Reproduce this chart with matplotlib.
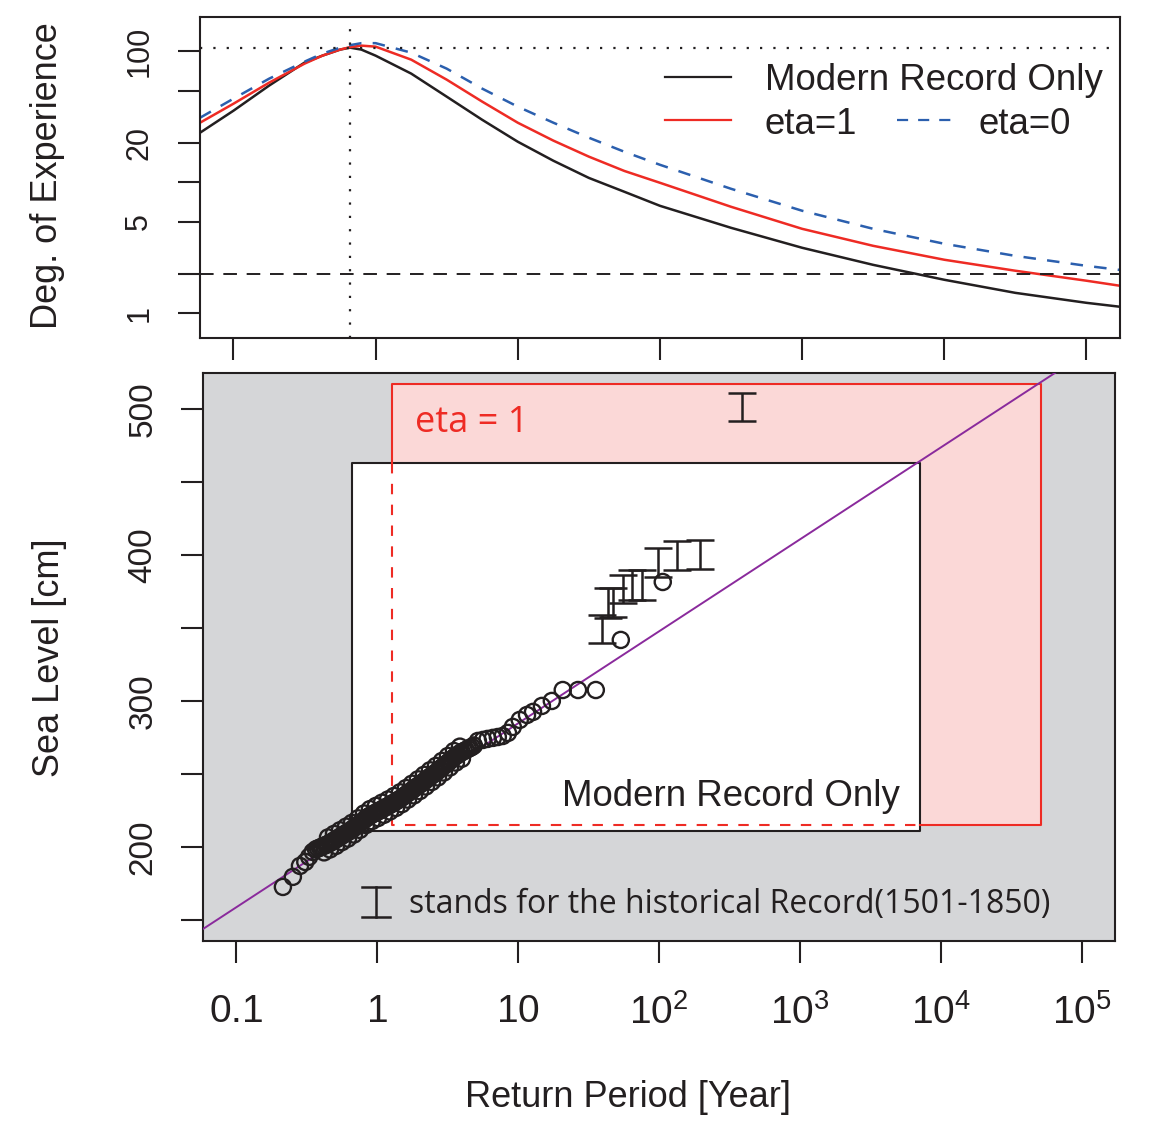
import matplotlib
matplotlib.use("Agg")
import matplotlib.pyplot as plt
from matplotlib.ticker import NullLocator

plt.rcParams['font.family'] = ['Liberation Sans', 'DejaVu Sans']
plt.rcParams['mathtext.fontset'] = 'custom'
plt.rcParams['mathtext.rm'] = 'Liberation Sans Narrow'

# ---- data -------------------------------------------------------------
# top panel: degree of experience vs return period
deg_T = [0.0582, 0.1, 0.178, 0.316, 0.422, 0.562, 0.661, 0.794, 1.0, 1.78, 3.16,
         5.62, 10, 17.8, 31.6, 56.2, 100, 316, 1000, 3160, 10000, 31600, 100000,
         172000]
deg_modern = [23.9, 35.2, 54.7, 82.0, 92.7, 103.1, 106.7, 103.1, 92.7, 67.6, 45.1,
              30.0, 20.4, 14.6, 10.8, 8.46, 6.61, 4.49, 3.16, 2.34, 1.80, 1.43,
              1.20, 1.12]
deg_eta1 = [28.5, 39.8, 57.6, 80.5, 92.7, 103.1, 107.7, 110.6, 108.6, 86.4, 60.8,
            41.3, 28.5, 20.8, 15.7, 12.2, 9.91, 6.50, 4.41, 3.27, 2.56, 2.11,
            1.77, 1.62]
deg_eta0 = [31.1, 43.5, 61.8, 83.4, 96.0, 106.7, 111.5, 115.5, 115.5, 97.7, 73.8,
            51.9, 37.8, 28.5, 21.9, 17.1, 13.6, 8.92, 6.06, 4.41, 3.39, 2.74,
            2.30, 2.14]
deg_peak = 106
deg_T_min = 0.665
deg_threshold = 2

# bottom panel: observed sea levels (modern record), main chain
obs_T = [0.215, 0.253, 0.284, 0.31, 0.33, 0.35,
         0.369, 0.381, 0.394, 0.407, 0.421, 0.435, 0.449, 0.464, 0.479, 0.495,
         0.512, 0.529, 0.546, 0.564, 0.583, 0.603, 0.622, 0.643, 0.664, 0.686,
         0.709, 0.733, 0.757, 0.782, 0.808, 0.835, 0.863, 0.891, 0.921, 0.951,
         0.983, 1.016, 1.049, 1.084, 1.120, 1.157, 1.196, 1.236, 1.277, 1.319,
         1.363, 1.408, 1.455, 1.503, 1.553, 1.605, 1.658, 1.713, 1.770, 1.829,
         1.889, 1.952, 2.017, 2.084, 2.153, 2.224, 2.298, 2.374, 2.453, 2.535,
         2.619, 2.706, 2.796, 2.889, 2.984, 3.083, 3.186, 3.291, 3.401, 3.514,
         3.630, 3.751, 3.875, 4.004, 4.137, 4.274, 4.416, 4.563, 4.714, 4.871,
         5.2, 5.65, 6.1, 6.65, 7.2, 7.8, 8.5, 9.2, 10.3, 11.6, 12.8, 14.8,
         17.4, 20.8, 26.7, 35.7, 53.7, 106.6]
obs_level = [172.6, 179.5, 187.0, 189.7, 193.2, 196.6,
             198.4, 199.0, 199.5, 200.2, 200.8, 201.4, 202.0, 202.8, 203.5, 204.4,
             205.2, 206.0, 206.9, 207.8, 208.6, 209.4, 210.2, 211.1, 212.0, 213.0,
             214.0, 215.1, 216.2, 217.3, 218.4, 219.5, 220.5, 221.4, 222.2, 222.9,
             223.6, 224.3, 225.0, 225.8, 226.5, 227.3, 228.0, 228.8, 229.6, 230.4,
             231.2, 232.0, 232.9, 233.8, 234.8, 235.8, 236.9, 237.8, 238.8, 239.8,
             240.9, 241.8, 242.8, 243.8, 244.9, 245.9, 247.0, 248.0, 249.0, 250.0,
             251.0, 252.1, 253.3, 254.4, 255.5, 256.6, 257.8, 258.9, 260.1, 261.2,
             262.3, 263.2, 264.2, 264.9, 265.7, 266.4, 267.1, 267.8, 268.5, 269.5,
             272.6, 273.3, 274.0, 274.7, 275.3, 276.0, 278.1, 282.2, 287.0, 290.4,
             292.5, 296.6, 300.0, 307.5, 307.5, 307.5, 341.8, 381.5]

# observations spread above / below the main chain in the dense part
upper_T = [0.449, 0.495, 0.546, 0.603, 0.664, 0.733, 0.808, 0.891, 0.983, 1.084,
           1.196, 1.319, 1.455, 1.605, 1.770, 1.952, 2.153, 2.374, 2.619, 2.889,
           3.186, 3.514, 3.875]
upper_level = [206.5, 208.9, 211.4, 213.9, 216.5, 219.6, 222.9, 225.9, 228.1, 230.3,
               232.5, 234.9, 237.4, 240.3, 243.3, 246.3, 249.4, 252.5, 255.5, 258.9,
               262.3, 265.7, 268.7]
lower_T = [0.421, 0.464, 0.512, 0.564, 0.622, 0.686, 0.757, 0.835, 0.921, 1.016,
           1.120, 1.236, 1.363, 1.503, 1.658, 1.829, 2.017, 2.224, 2.453, 2.706,
           2.984, 3.291, 3.630, 4.004]
lower_level = [196.3, 198.3, 200.7, 203.3, 205.7, 208.5, 211.7, 215.0, 217.7, 219.8,
               222.0, 224.3, 226.7, 229.3, 232.4, 235.3, 238.3, 241.4, 244.5, 247.6,
               251.0, 254.4, 257.8, 260.4]

# historical record (1501-1850) ranges
hist_T = [39.3, 43.5, 47.2, 55.6, 64.4, 75.7, 98.4, 134, 195, 388]
hist_low = [339.7, 356.8, 357.5, 367.1, 369.2, 369.2, 384.9, 389.7, 390.4, 491.8]
hist_high = [358.9, 377.4, 377.4, 386.3, 389.7, 389.7, 404.8, 409.6, 410.3, 511.0]

# fitted return level line
fit_T = [0.05, 200000]
fit_level = [139.6, 555.6]

# ranges covered by each estimate
modern_T = [0.665, 7100]
modern_level = [211, 463]
eta1_T = [1.28, 51200]
eta1_level = [215, 517]

# ---- style ------------------------------------------------------------
INK = '#231f20'
RED = '#ee2b24'
BLUE = '#2b5fae'
PURPLE = '#8a2a9c'
GRAY = '#d5d6d8'
PINK = '#fbd8d7'
HUMANIST = ['Open Sans', 'DejaVu Sans']
xlim = (10 ** -1.235, 10 ** 5.236)

fig = plt.figure(figsize=(11.65, 11.25), dpi=100)
ax1 = fig.add_axes([0.1717, 0.6996, 0.7897, 0.2853])
ax2 = fig.add_axes([0.1742, 0.1636, 0.7828, 0.5049])

for ax in (ax1, ax2):
    ax.set_xscale('log')
    ax.set_xlim(*xlim)
    for s in ax.spines.values():
        s.set_linewidth(1.5)
        s.set_color(INK)
    ax.tick_params(direction='out', length=16, width=1.5, color=INK, labelcolor=INK)

# ---- top panel --------------------------------------------------------
ax1.set_yscale('log')
ax1.set_ylim(0.647, 183)
ax1.plot(deg_T, deg_modern, color=INK, lw=1.8)
ax1.plot(deg_T, deg_eta1, color=RED, lw=1.8)
ax1.plot(deg_T, deg_eta0, color=BLUE, lw=1.8, dashes=(5, 4.5))
ax1.axhline(deg_threshold, color=INK, lw=1.4, dashes=(7, 5))
ax1.axhline(deg_peak, color=INK, lw=1.6, dashes=(1, 5))
ax1.axvline(deg_T_min, color=INK, lw=1.6, dashes=(1, 5))

ax1.set_xticks([0.1, 1, 10, 100, 1e3, 1e4, 1e5])
ax1.xaxis.set_minor_locator(NullLocator())
ax1.tick_params(axis='x', labelbottom=False)
ax1.set_yticks([1, 2, 5, 10, 20, 50, 100])
ax1.set_yticklabels(['1', '', '5', '', '20', '', '100'], rotation=90, va='center')
ax1.yaxis.set_minor_locator(NullLocator())
ax1.tick_params(axis='y', labelsize=22, pad=17)
ax1.set_ylabel('Deg. of Experience', fontsize=26, va='center', color=INK)
ax1.yaxis.set_label_coords(-0.166, 0.505)

# legend drawn by hand
ax1.plot([0.5054, 0.5772], [0.813, 0.813], color=INK, lw=1.6, transform=ax1.transAxes)
ax1.plot([0.5054, 0.5772], [0.679, 0.679], color=RED, lw=1.6, transform=ax1.transAxes)
ax1.plot([0.7576, 0.824], [0.679, 0.679], color=BLUE, lw=1.6, dashes=(5, 4.5),
         transform=ax1.transAxes)
ax1.text(0.614, 0.7726, 'Modern Record Only', fontsize=26.4, va='baseline', color=INK,
         transform=ax1.transAxes)
ax1.text(0.614, 0.6355, 'eta=1', fontsize=26.4, va='baseline', color=INK,
         transform=ax1.transAxes)
ax1.text(0.8467, 0.6355, 'eta=0', fontsize=26.4, va='baseline', color=INK,
         transform=ax1.transAxes)

# ---- bottom panel -----------------------------------------------------
ax2.set_facecolor(GRAY)
ax2.set_ylim(135.6, 524.7)

ax2.fill_between(eta1_T, eta1_level[0], eta1_level[1], color=PINK, lw=0, zorder=1)
ax2.fill_between(modern_T, modern_level[0], modern_level[1], facecolor='white',
                 edgecolor=INK, lw=1.5, zorder=1.5)
# solid red outline where it lies outside the modern box, dashed inside
ax2.plot([eta1_T[0], eta1_T[0], eta1_T[1], eta1_T[1], modern_T[1]],
         [modern_level[1], eta1_level[1], eta1_level[1], eta1_level[0], eta1_level[0]],
         color=RED, lw=1.5, zorder=2)
ax2.plot([eta1_T[0], eta1_T[0], modern_T[1]],
         [modern_level[1], eta1_level[0], eta1_level[0]],
         color=RED, lw=1.5, dashes=(5, 5), zorder=2)

ax2.plot(fit_T, fit_level, color=PURPLE, lw=1.4, zorder=3)
for xs, ys in ((obs_T, obs_level), (upper_T, upper_level), (lower_T, lower_level)):
    ax2.scatter(xs, ys, s=135, facecolors='none', edgecolors=INK,
                linewidths=1.7, zorder=4)
mid = [(lo + hi) / 2 for lo, hi in zip(hist_low, hist_high)]
half = [(hi - lo) / 2 for lo, hi in zip(hist_low, hist_high)]
ax2.errorbar(hist_T, mid, yerr=half, fmt='none', ecolor=INK, elinewidth=1.8,
             capsize=10, capthick=1.8, zorder=5)

ax2.text(0.7643, 0.2377, 'Modern Record Only', fontsize=26.4, ha='right', va='baseline',
         color=INK, transform=ax2.transAxes, zorder=6)
ax2.text(0.2325, 0.8956, 'eta = 1', fontsize=26, ha='left', va='baseline',
         color=RED, family=HUMANIST, transform=ax2.transAxes, zorder=6)

# symbol key for historical record
ax2.plot([0.1897, 0.1897], [0.0423, 0.0951], color=INK, lw=1.8, transform=ax2.transAxes)
ax2.plot([0.1743, 0.2050], [0.0951, 0.0951], color=INK, lw=1.8, transform=ax2.transAxes)
ax2.plot([0.1743, 0.2050], [0.0423, 0.0423], color=INK, lw=1.8, transform=ax2.transAxes)
ax2.text(0.2259, 0.064, 'stands for the historical Record(1501-1850)', fontsize=23,
         ha='left', va='center', color=INK, family=HUMANIST, transform=ax2.transAxes)

ax2.set_xticks([0.1, 1, 10, 100, 1e3, 1e4, 1e5])
ax2.set_xticklabels(['$\\mathregular{0.1}$', '$\\mathregular{1}$', '$\\mathregular{10}$',
                     '$\\mathregular{10^{2}}$', '$\\mathregular{10^{3}}$',
                     '$\\mathregular{10^{4}}$', '$\\mathregular{10^{5}}$'])
ax2.xaxis.set_minor_locator(NullLocator())
ax2.tick_params(axis='x', labelsize=28, pad=22)
ax2.set_yticks([150, 200, 250, 300, 350, 400, 450, 500])
ax2.set_yticklabels(['', '200', '', '300', '', '400', '', '500'], rotation=90, va='center')
ax2.tick_params(axis='y', labelsize=24, pad=16)

ax2.set_xlabel('Return Period [Year]', fontsize=26, va='center', color=INK)
ax2.xaxis.set_label_coords(0.4666, -0.275)
ax2.set_ylabel('Sea Level [cm]', fontsize=26, va='center', color=INK)
ax2.yaxis.set_label_coords(-0.168, 0.498)

fig.savefig('out.png', dpi=100)
